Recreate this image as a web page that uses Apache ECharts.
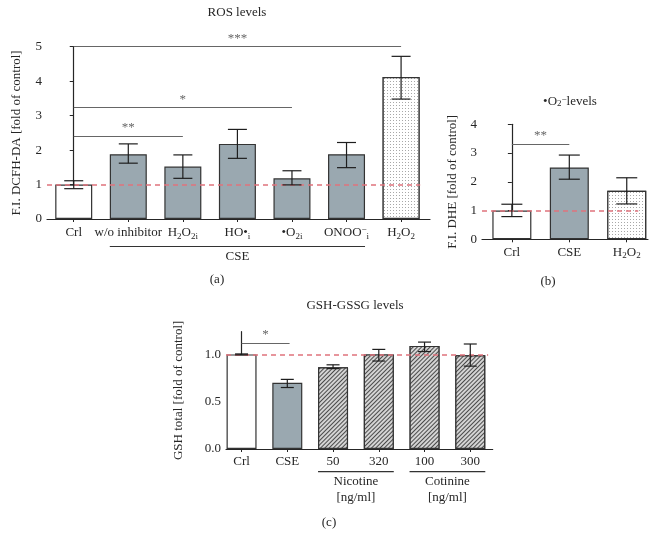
<!DOCTYPE html>
<html>
<head>
<meta charset="utf-8">
<script src="https://cdn.jsdelivr.net/npm/echarts@6/dist/echarts.min.js"></script>
<style>
  html, body { margin: 0; background: #fff; }
  #main { width: 664px; height: 550px; }
</style>
</head>
<body>
<div id="main"></div>
<script>
// ---- data ----
// (a) ROS levels
const catsA = ['Crl', 'w/o inhibitor', 'H{sb|2}O{sb|2i}', 'HO•{sb|i}', '•O{sb|2i}', 'ONOO{sp|−}{sb|i}', 'H{sb|2}O{sb|2}'];
const valsA = [1.0, 1.88, 1.52, 2.18, 1.18, 1.88, 4.12];
const loA = [0.88, 1.62, 1.18, 1.76, 0.99, 1.49, 3.48];
const hiA = [1.11, 2.18, 1.86, 2.60, 1.40, 2.22, 4.72];
const yTicksA = [0, 1, 2, 3, 4, 5];
const sigA = [
  { from: 0, to: 2, y: 2.41, text: '**' },
  { from: 0, to: 4, y: 3.23, text: '*' },
  { from: 0, to: 6, y: 5.0, text: '***' }
];
const groupsA = [{ name: 'CSE', from: 1, to: 5 }];

// (b) •O2- levels
const catsB = ['Crl', 'CSE', 'H{sb|2}O{sb|2}'];
const valsB = [1.0, 2.5, 1.69];
const loB = [0.79, 2.09, 1.23];
const hiB = [1.22, 2.93, 2.14];
const yTicksB = [0, 1, 2, 3, 4];
const sigB = [{ from: 0, to: 1, y: 3.30, text: '**' }];

// (c) GSH-GSSG levels
const catsC = ['Crl', 'CSE', '50', '320', '100', '300'];
const valsC = [1.0, 0.70, 0.863, 1.0, 1.09, 0.99];
const loC = [0.995, 0.65, 0.85, 0.93, 1.03, 0.876];
const hiC = [1.005, 0.736, 0.89, 1.053, 1.13, 1.11];
const yTicksC = [0, 0.5, 1.0];
const sigC = [{ from: 0, to: 1.05, y: 1.12, text: '*' }];
const groupsC = [
  { name: 'Nicotine\n[ng/ml]', from: 2, to: 3 },
  { name: 'Cotinine\n[ng/ml]', from: 4, to: 5 }
];

// fills per bar
const fillA = ['white', 'gray', 'gray', 'gray', 'gray', 'gray', 'dots'];
const fillB = ['white', 'gray', 'dots'];
const fillC = ['white', 'gray', 'hatch', 'hatch', 'hatch', 'hatch'];

// ---- styles ----
const FONT = 'Liberation Serif';
const FS = 13;
const INK = '#262626';
const GRAY = '#9aa8b0';
const RED = '#e0737c';

const rich = {
  sb: { fontFamily: FONT, fontSize: 9, lineHeight: 10, verticalAlign: 'bottom', color: INK },
  sp: { fontFamily: FONT, fontSize: 9, lineHeight: 8, verticalAlign: 'top', color: INK }
};

function fillStyle(kind) {
  if (kind === 'gray') return { color: GRAY };
  if (kind === 'dots') return {
    color: '#fff',
    decal: { symbol: 'rect', symbolSize: 1, dashArrayX: [1, 2], dashArrayY: [1, 2], color: '#a8a8a8', backgroundColor: '#fff' }
  };
  if (kind === 'hatch') return {
    color: '#bdbdbd',
    decal: { symbol: 'rect', symbolSize: 1, dashArrayX: [1, 0], dashArrayY: [1, 1.8], rotation: -Math.PI / 4, color: '#4a4a4a', backgroundColor: '#d4d4d4' }
  };
  return { color: '#fff' };
}

const panels = [
  { cats: catsA, vals: valsA, lo: loA, hi: hiA, fills: fillA, sig: sigA, yTicks: yTicksA,
    grid: { left: 47, top: 46.7, width: 383, height: 172.3 }, xr: [-0.49, 6.53], yr: [0, 5],
    name: 'F.I. DCFH-DA [fold of control]', nameGap: 24, barW: 37, capW: 19, refEnd: 6.35, margin: 6, dec: 0 },
  { cats: catsB, vals: valsB, lo: loB, hi: hiB, fills: fillB, sig: sigB, yTicks: yTicksB,
    grid: { left: 482, top: 124.3, width: 166, height: 115 }, xr: [-0.52, 2.37], yr: [0, 4],
    name: 'F.I. DHE [fold of control]', nameGap: 23, barW: 39, capW: 21, refEnd: 2.2, margin: 5, dec: 0 },
  { cats: catsC, vals: valsC, lo: loC, hi: hiC, fills: fillC, sig: sigC, yTicks: yTicksC,
    grid: { left: 226, top: 331.7, width: 266.7, height: 117.3 }, xr: [-0.34, 5.49], yr: [0, 1.24],
    name: 'GSH total [fold of control]', nameGap: 41, barW: 30, capW: 13, refEnd: 5.39, margin: 5, dec: 1 }
];

const chart = echarts.init(document.getElementById('main'));

const grid = [], xAxis = [], yAxis = [], series = [];
panels.forEach((p, i) => {
  grid.push(p.grid);
  const idx = p.cats.map((c, k) => k);
  xAxis.push({
    type: 'value', gridIndex: i, min: p.xr[0], max: p.xr[1],
    splitLine: { show: false },
    axisLine: { show: true, lineStyle: { color: INK, width: 1.2 } },
    axisTick: { show: true, customValues: idx, length: 3, lineStyle: { color: INK } },
    axisLabel: {
      customValues: idx, margin: p.margin, formatter: v => p.cats[Math.round(v)],
      fontFamily: FONT, fontSize: FS, lineHeight: 16, color: INK, rich: rich
    }
  });
  yAxis.push({
    type: 'value', gridIndex: i, min: p.yr[0], max: p.yr[1],
    name: p.name, nameLocation: 'middle', nameGap: p.nameGap,
    nameTextStyle: { fontFamily: FONT, fontSize: FS, color: INK },
    splitLine: { show: false },
    axisLine: { show: true, lineStyle: { color: INK, width: 1.2 } },
    axisTick: { show: true, customValues: p.yTicks, length: 4, lineStyle: { color: INK } },
    axisLabel: {
      customValues: p.yTicks, margin: 5, formatter: v => v.toFixed(p.dec),
      fontFamily: FONT, fontSize: FS, color: INK
    }
  });
  series.push({
    type: 'bar', xAxisIndex: i, yAxisIndex: i, barWidth: p.barW,
    data: p.vals.map((v, k) => ({
      value: [k, v],
      itemStyle: Object.assign({ borderColor: '#333', borderWidth: 1.2 }, fillStyle(p.fills[k]))
    })),
    markLine: {
      silent: true, symbol: 'none', label: { show: false },
      lineStyle: { color: RED, type: [5, 4], width: 1.5 },
      data: [[{ coord: [p.xr[0], 1] }, { coord: [p.refEnd, 1] }]]
    },
    z: 2
  });
  series.push({
    type: 'custom', xAxisIndex: i, yAxisIndex: i, z: 5, clip: false,
    data: p.vals.map((v, k) => [k, p.lo[k], p.hi[k]]),
    encode: { x: 0, y: [1, 2] },
    renderItem: (params, api) => {
      const x = api.value(0);
      const top = api.coord([x, api.value(2)]);
      const bot = api.coord([x, api.value(1)]);
      const h = p.capW / 2;
      const st = { stroke: '#1e1e1e', lineWidth: 1.2 };
      return {
        type: 'group', children: [
          { type: 'line', shape: { x1: top[0], y1: top[1], x2: bot[0], y2: bot[1] }, style: st },
          { type: 'line', shape: { x1: top[0] - h, y1: top[1], x2: top[0] + h, y2: top[1] }, style: st },
          { type: 'line', shape: { x1: bot[0] - h, y1: bot[1], x2: bot[0] + h, y2: bot[1] }, style: st }
        ]
      };
    },
    markLine: {
      silent: true, symbol: 'none',
      lineStyle: { color: '#666', type: 'solid', width: 1.2 },
      label: { show: true, position: 'insideMiddleTop', distance: 2, fontFamily: FONT, fontSize: FS, color: '#666' },
      data: p.sig.map(s => [
        { coord: [s.from, s.y], label: { formatter: s.text } },
        { coord: [s.to, s.y] }
      ])
    }
  });
});

const textEl = (text, x, y, extra) => ({
  type: 'text', x: x, y: y, silent: true,
  style: Object.assign({ text: text, fill: INK, font: FS + 'px "' + FONT + '"', textAlign: 'center', textVerticalAlign: 'middle', rich: rich }, extra || {})
});

chart.setOption({
  animation: false,
  backgroundColor: '#fff',
  grid, xAxis, yAxis, series
});

// titles, captions and group brackets under the axes
const graphics = [
  textEl('ROS levels', 237, 13),
  textEl('•O{sb|2}{sp|−}levels', 570, 102),
  textEl('GSH-GSSG levels', 355, 306),
  textEl('(a)', 217, 280),
  textEl('(b)', 548, 282),
  textEl('(c)', 329, 523)
];

function addGroups(gi, groups, lineDy, textDy) {
  const p = panels[gi];
  groups.forEach(g => {
    const a = chart.convertToPixel({ gridIndex: gi }, [g.from, 0]);
    const b = chart.convertToPixel({ gridIndex: gi }, [g.to, 0]);
    const x1 = a[0] - p.barW / 2, x2 = b[0] + p.barW / 2;
    const y = a[1] + lineDy;
    graphics.push({ type: 'line', silent: true, shape: { x1: x1, y1: y, x2: x2, y2: y }, style: { stroke: '#333', lineWidth: 1.2 } });
    graphics.push(textEl(g.name, (x1 + x2) / 2, a[1] + textDy, { textVerticalAlign: 'top', lineHeight: 16 }));
  });
}
addGroups(0, groupsA, 27.5, 30);
addGroups(2, groupsC, 22.7, 25);

chart.setOption({ graphic: graphics });
</script>
</body>
</html>
